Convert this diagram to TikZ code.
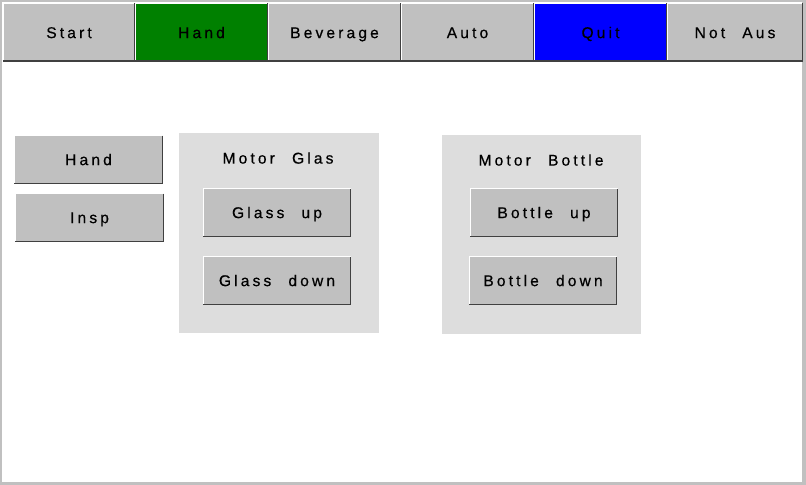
\documentclass[tikz,border=0pt]{standalone}
\usepackage{fontspec}
\setmainfont{Liberation Sans}[LetterSpace=20, WordSpace=2.3, FakeBold=0.5]
\usetikzlibrary{fit}
\definecolor{btngray}{HTML}{C0C0C0}
\definecolor{panelgray}{HTML}{DDDDDD}
\definecolor{edgedark}{HTML}{404040}
\definecolor{tabgreen}{HTML}{008000}
\definecolor{tabblue}{HTML}{0000FF}
\tikzset{
  btn/.style={fill=btngray, inner sep=0pt, outer sep=0pt},
  panel/.style={fill=panelgray, inner sep=0pt, outer sep=0pt},
  plabel/.style={inner sep=0pt, font=\fontsize{11.7pt}{14pt}\selectfont, text=black, text height=8.4pt, text depth=0pt},
  hilite/.style={white, line width=0.75pt},
  shade/.style={edgedark, line width=1.125pt}
}
\begin{document}
\begin{tikzpicture}[x=0.75pt, y=-0.75pt]
\useasboundingbox (0,0) rectangle (806,485);
\fill[btngray] (0,0) rectangle (806,485);
\fill[white] (2,2) rectangle (802,482);
% tabs
\node[btn, fit={(3,3)(135,62)}] (tstart) {};
\node[btn, fill=tabgreen, fit={(135,3)(268,62)}] (thand) {};
\node[btn, fit={(268,3)(401,62)}] (tbev) {};
\node[btn, fit={(401,3)(534,62)}] (tauto) {};
\node[btn, fill=tabblue, fit={(534,3)(667,62)}] (tquit) {};
\node[btn, fit={(667,3)(803,62)}] (tnot) {};
% left buttons
\node[btn, fit={(14,135)(163,184)}] (bhand) {};
\node[btn, fit={(15,193)(164,242)}] (binsp) {};
% panel glas
\node[panel, fit={(179,133)(379,333)}] (pglas) {};
\node[plabel] (lglas) at (278,158) {Motor Glas};
\node[btn, fit={(203,188)(351,237)}] (gup) {};
\node[btn, fit={(203,256)(351,305)}] (gdown) {};
% panel bottle
\node[panel, fit={(442,135)(641,334)}] (pbottle) {};
\node[plabel] (lbottle) at (541,160) {Motor Bottle};
\node[btn, fit={(470,188)(618,237)}] (bup) {};
\node[btn, fit={(469,256)(617,305)}] (bdown) {};
% bevel edges
\foreach \n in {tstart,thand,tbev,tauto,tquit,tnot,bhand,binsp,gup,gdown,bup,bdown}{
  \draw[hilite] ([shift={(0.5,0)}]\n.south west) |- ([shift={(0,0.5)}]\n.north east);
  \draw[shade] ([shift={(-0.75,0.5)}]\n.north east) |- ([shift={(0,-0.75)}]\n.south west);
}
% labels
\node[plabel] (ttstart) at (tstart) {Start};
\node[plabel] (tthand) at (thand) {Hand};
\node[plabel] (ttbev) at (tbev) {Beverage};
\node[plabel] (ttauto) at (tauto) {Auto};
\node[plabel] (ttquit) at (tquit) {Quit};
\node[plabel] (ttnot) at (tnot) {Not Aus};
\node[plabel] (tbhand) at (bhand) {Hand};
\node[plabel] (tbinsp) at (binsp) {Insp};
\node[plabel] (tgup) at (gup) {Glass up};
\node[plabel] (tgdown) at (gdown) {Glass down};
\node[plabel] (tbup) at (bup) {Bottle up};
\node[plabel] (tbdown) at (bdown) {Bottle down};
\end{tikzpicture}
\end{document}
